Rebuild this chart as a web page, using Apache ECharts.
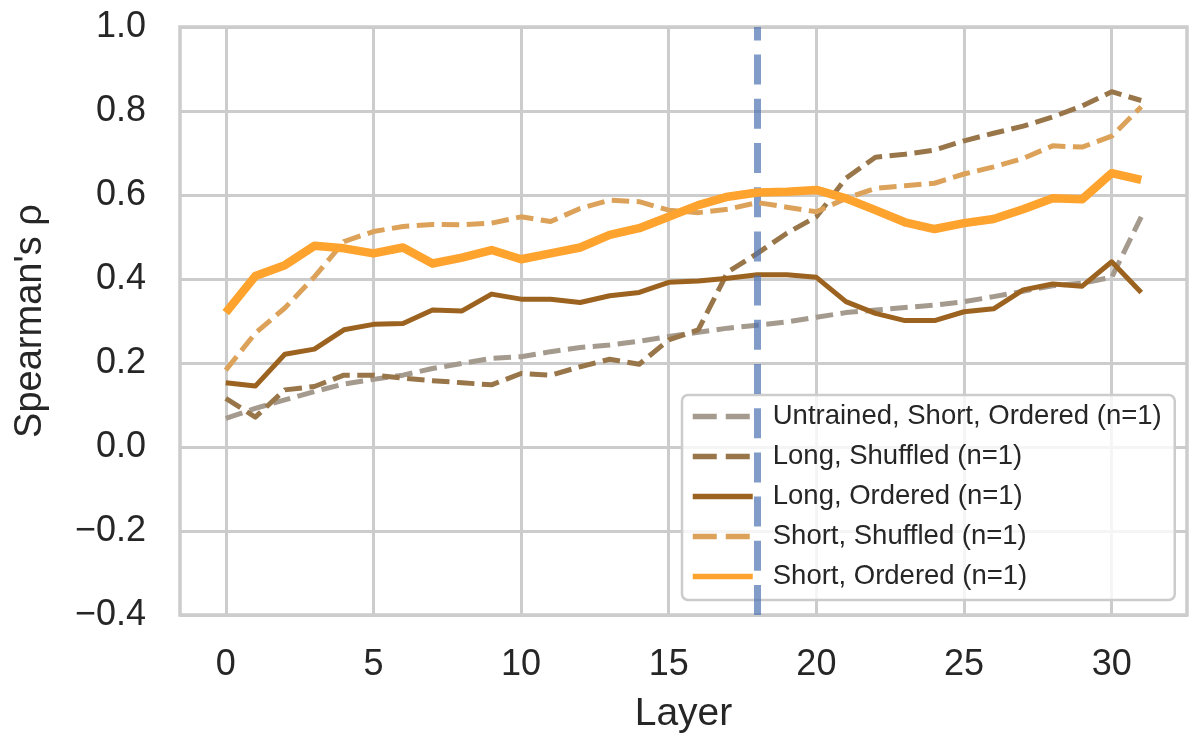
<!DOCTYPE html>
<html>
<head>
<meta charset="utf-8">
<script src="https://cdn.jsdelivr.net/npm/echarts@6/dist/echarts.min.js"></script>
<style>
html,body{margin:0;padding:0;background:#fff;}
#chart{width:1200px;height:750px;}
</style>
</head>
<body>
<div id="chart"></div>
<script>
const layers = [0,1,2,3,4,5,6,7,8,9,10,11,12,13,14,15,16,17,18,19,20,21,22,23,24,25,26,27,28,29,30,31];
const untrainedShortOrdered = [0.068,0.092,0.112,0.132,0.150,0.161,0.171,0.187,0.199,0.211,0.215,0.227,0.237,0.243,0.252,0.263,0.273,0.283,0.290,0.298,0.309,0.320,0.326,0.332,0.338,0.346,0.358,0.371,0.384,0.390,0.404,0.548];
const longShuffled = [0.116,0.071,0.136,0.144,0.171,0.171,0.164,0.158,0.153,0.148,0.175,0.171,0.191,0.209,0.197,0.255,0.279,0.417,0.461,0.509,0.548,0.640,0.690,0.697,0.707,0.729,0.747,0.764,0.786,0.812,0.846,0.825];
const longOrdered = [0.153,0.145,0.221,0.233,0.279,0.292,0.294,0.326,0.324,0.364,0.352,0.352,0.344,0.360,0.368,0.392,0.395,0.402,0.410,0.410,0.404,0.346,0.318,0.301,0.301,0.322,0.329,0.374,0.388,0.383,0.441,0.368];
const shortShuffled = [0.183,0.271,0.331,0.405,0.489,0.513,0.525,0.530,0.529,0.533,0.548,0.537,0.568,0.588,0.584,0.564,0.558,0.566,0.582,0.571,0.560,0.592,0.616,0.622,0.628,0.650,0.667,0.687,0.717,0.714,0.740,0.810];
const shortOrdered = [0.320,0.407,0.433,0.479,0.473,0.461,0.475,0.437,0.451,0.469,0.447,0.461,0.475,0.505,0.521,0.548,0.576,0.596,0.606,0.608,0.612,0.592,0.564,0.535,0.519,0.533,0.543,0.566,0.592,0.590,0.652,0.636];
const seriesNames = ["Untrained, Short, Ordered (n=1)","Long, Shuffled (n=1)","Long, Ordered (n=1)","Short, Shuffled (n=1)","Short, Ordered (n=1)"];
const xTicks = [0,5,10,15,20,25,30];
const yTicks = [-0.4,-0.2,0.0,0.2,0.4,0.6,0.8,1.0];
const markerLayer = 18;

const FONT = "'Liberation Sans', Arial, sans-serif";
const TXT = '#262626';

const styles = [
  {color:'#a59a8e', width:5, type:[17.5,7.5], lw:5.5, ltype:[24,9]},
  {color:'#997649', width:5, type:[17.5,7.5], lw:5.5, ltype:[24,9]},
  {color:'#9b631f', width:5, type:'solid', lw:5.5, ltype:'solid'},
  {color:'#dca25a', width:5, type:[17.5,7.5], lw:5.5, ltype:[24,9]},
  {color:'#ffa32f', width:8.5, type:'solid', lw:5.5, ltype:'solid'}
];
const dataArrays = [untrainedShortOrdered, longShuffled, longOrdered, shortShuffled, shortOrdered];

const series = dataArrays.map((arr, i) => ({
  name: seriesNames[i],
  type: 'line',
  symbol: 'none',
  z: 2 + i,
  data: layers.map((l, j) => [l, arr[j]]),
  lineStyle: {color: styles[i].color, width: styles[i].width, type: styles[i].type, cap: 'butt', join: 'round'},
  itemStyle: {color: styles[i].color}
}));
series.push({
  name: 'vline',
  type: 'line',
  data: [],
  z: 10,
  markLine: {
    silent: true,
    symbol: ['none','none'],
    label: {show: false},
    lineStyle: {color: 'rgba(76,114,176,0.7)', width: 7, type: [30,14.2]},
    emphasis: {disabled: true},
    data: [{xAxis: markerLayer}]
  }
});

const chart = echarts.init(document.getElementById('chart'), null, {renderer: 'canvas'});
chart.setOption({
  animation: false,
  backgroundColor: '#ffffff',
  textStyle: {fontFamily: FONT},
  grid: {left: 180, right: 13, top: 27, bottom: 135, show: true, borderColor: '#cccccc', borderWidth: 3.5, backgroundColor: 'transparent'},
  xAxis: {
    type: 'value', min: -1.55, max: 32.55,
    name: 'Layer', nameLocation: 'middle', nameGap: 80,
    nameTextStyle: {fontSize: 39, color: TXT, fontFamily: FONT},
    axisLine: {show: false},
    axisTick: {show: false, customValues: xTicks},
    axisLabel: {customValues: xTicks, fontSize: 36, color: TXT, margin: 32, fontFamily: FONT},
    splitLine: {show: true, customValues: xTicks, lineStyle: {color: '#cccccc', width: 3}}
  },
  yAxis: {
    type: 'value', min: -0.4, max: 1.0, interval: 0.2,
    name: "Spearman's ρ", nameLocation: 'middle', nameGap: 130, nameRotate: 90,
    nameTextStyle: {fontSize: 38, color: TXT, fontFamily: FONT},
    axisLine: {show: false}, axisTick: {show: false},
    axisLabel: {fontSize: 36, color: TXT, margin: 34, fontFamily: FONT,
      formatter: v => (v < -1e-9 ? '\u2212' + Math.abs(v).toFixed(1) : Math.abs(v).toFixed(1))},
    splitLine: {show: true, lineStyle: {color: '#cccccc', width: 3}}
  },
  legend: {
    show: true,
    orient: 'vertical',
    left: 682, top: 395,
    padding: [6, 13, 8, 8],
    itemGap: 9,
    itemWidth: 60, itemHeight: 16,
    backgroundColor: 'rgba(255,255,255,0.8)',
    borderColor: '#cccccc', borderWidth: 2.5, borderRadius: 6,
    textStyle: {fontSize: 27.5, color: TXT, fontFamily: FONT, padding: [0,0,0,15], lineHeight: 31},
    selectedMode: false,
    data: seriesNames.map((n, i) => ({
      name: n,
      lineStyle: {color: styles[i].color, width: styles[i].lw, type: styles[i].ltype, cap: 'butt'},
      itemStyle: {opacity: 0}
    }))
  },
  series: series
});
</script>
</body>
</html>
